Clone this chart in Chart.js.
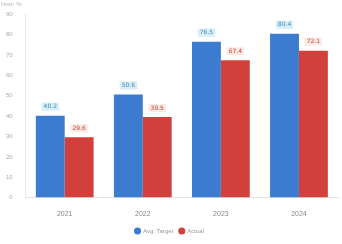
<!DOCTYPE html>
<html>
<head>
<meta charset="utf-8">
<script src="https://cdn.jsdelivr.net/npm/chart.js@4.4.1/dist/chart.umd.min.js"></script>
<style>
  html, body { margin: 0; padding: 0; background: #fff; }
  #wrap { width: 342px; height: 244px; position: relative; }
</style>
</head>
<body>
<div id="wrap"><canvas id="grafico"></canvas></div>
<script>
// datos del grafico
const categorias = ["2021", "2022", "2023", "2024"];
const serieAzul = [40.2, 50.6, 76.5, 80.4];
const serieRoja = [29.6, 39.5, 67.4, 72.1];
const nombresSeries = ["Avg. Target", "Actual"];
const ticksY = [0, 10, 20, 30, 40, 50, 60, 70, 80, 90];

const AZUL = "#3b7cd0";
const ROJO = "#d2403c";

// etiquetas encima de cada barra (sin plugin externo)
const etiquetasBarras = {
    id: "etiquetasBarras",
    afterDatasetsDraw(chart) {
        const ctx = chart.ctx;
        ctx.save();
        ctx.font = "6px 'DejaVu Sans'";
        ctx.textAlign = "center";
        ctx.textBaseline = "middle";
        chart.data.datasets.forEach((ds, i) => {
            const meta = chart.getDatasetMeta(i);
            meta.data.forEach((bar, j) => {
                const txt = ds.data[j].toFixed(1);
                const w = ctx.measureText(txt).width + 4;
                const y = bar.y - 9;
                ctx.fillStyle = i === 0 ? "rgba(200,230,245,0.7)" : "rgba(250,225,215,0.7)";
                ctx.fillRect(bar.x - w / 2, y - 4, w, 8);
                ctx.fillStyle = i === 0 ? "#3a8fb8" : "#c8403a";
                ctx.fillText(txt, bar.x, y);
            });
        });
        ctx.restore();
    }
};

new Chart(document.getElementById("grafico").getContext("2d"), {
    type: "bar",
    data: {
        labels: categorias,
        datasets: [
            { label: nombresSeries[0], data: serieAzul, backgroundColor: AZUL },
            { label: nombresSeries[1], data: serieRoja, backgroundColor: ROJO }
        ]
    },
    options: {
        responsive: true,
        maintainAspectRatio: false,
        animation: false,
        layout: { padding: { left: 1, right: 4, top: 1, bottom: 0 } },
        categoryPercentage: 0.74,
        barPercentage: 1.0,
        plugins: {
            title: {
                display: true,
                text: "Unit: %",
                align: "start",
                color: "#c8c8c8",
                font: { size: 6 },
                padding: { top: 0, bottom: 6 }
            },
            legend: {
                position: "bottom",
                labels: {
                    usePointStyle: true,
                    pointStyle: "circle",
                    boxWidth: 5,
                    boxHeight: 5,
                    color: "#999",
                    font: { size: 6 },
                    padding: 6
                }
            },
            tooltip: { enabled: false }
        },
        scales: {
            x: {
                grid: { display: false },
                border: { color: "#e4e4e4" },
                ticks: { color: "#888", font: { size: 7 }, padding: 4 }
            },
            y: {
                min: 0,
                max: ticksY[ticksY.length - 1],
                afterBuildTicks: (axis) => { axis.ticks = ticksY.map(v => ({ value: v })); },
                grid: { display: false },
                border: { color: "#e8e8e8" },
                ticks: { color: "#aaa", font: { size: 6 }, padding: 5 }
            }
        }
    },
    plugins: [etiquetasBarras]
});
</script>
</body>
</html>
